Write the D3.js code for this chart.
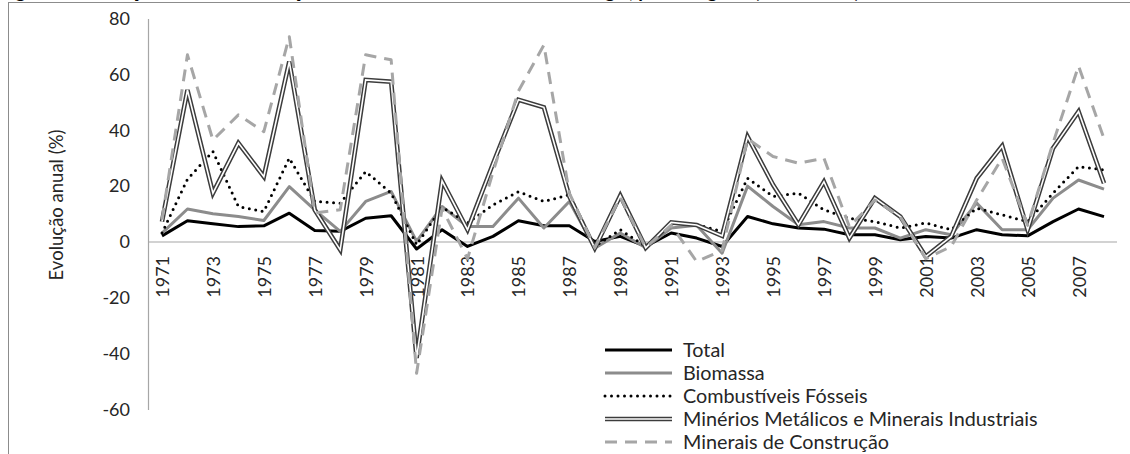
<!DOCTYPE html>
<html>
<head>
<meta charset="utf-8">
<script src="https://cdn.jsdelivr.net/npm/d3@7"></script>
<style>
  html, body { margin: 0; padding: 0; background: #fff; }
  svg { display: block; }
  text { font-family: Lato, "Open Sans", sans-serif; fill: #262626; }
</style>
</head>
<body>
<svg id="chart" width="1130" height="454"></svg>
<script>
const years = [1971,1972,1973,1974,1975,1976,1977,1978,1979,1980,1981,1982,1983,1984,1985,1986,1987,1988,1989,1990,
               1991,1992,1993,1994,1995,1996,1997,1998,1999,2000,2001,2002,2003,2004,2005,2006,2007,2008];
const yearLabels = [1971,1973,1975,1977,1979,1981,1983,1985,1987,1989,1991,1993,1995,1997,1999,2001,2003,2005,2007];
const yTicks = [-60,-40,-20,0,20,40,60,80];

const total = [2.2,7.6,6.5,5.5,5.8,10.3,4.1,3.8,8.5,9.4,-2.5,4.4,-1.6,2.0,7.6,5.8,5.8,0.2,2.0,-1.6,
               3.2,1.4,-1.6,9.1,6.5,5.0,4.6,2.6,2.6,0.8,2.0,1.4,4.4,2.6,2.2,7.3,11.8,9.1];
const biomassa = [3.2,11.8,10.1,9.1,7.7,19.8,11.5,3.8,14.5,18.1,0.2,12.7,5.5,5.5,15.7,5.0,14.5,-2.2,3.2,-2.0,
                  5.0,6.0,-4.0,20.0,12.7,6.2,7.3,5.0,5.0,1.4,4.4,2.6,13.9,4.4,4.4,15.7,22.2,18.9];
const fosseis = [3.2,22.5,32.4,12.7,10.9,30.0,14.5,13.9,25.2,17.5,-1.0,12.5,6.8,13.3,18.0,14.5,16.9,-1.6,4.4,-1.6,
                 6.8,6.2,3.8,22.8,16.3,17.5,11.5,8.5,7.3,5.0,6.8,4.4,12.1,9.7,7.3,17.5,27.0,25.8];
const minerios = [7.3,54.4,17.5,35.4,23.4,64.6,11.5,-2.8,58.0,57.4,-41.5,21.9,4.4,28.0,50.9,48.2,16.3,-2.2,16.6,-2.1,
                  7.0,6.1,2.2,37.7,20.5,6.2,21.6,1.4,15.7,9.1,-5.2,2.0,22.8,34.4,4.4,33.6,46.7,21.0];
const construcao = [8.0,67.0,36.5,45.5,39.5,73.5,10.4,11.5,67.0,65.2,-47.0,12.0,-6.0,25.0,54.0,70.5,17.5,-2.0,16.0,-2.0,
                    6.0,-7.0,-3.0,37.0,30.6,28.2,30.0,5.5,15.0,9.0,-6.0,-1.6,15.0,30.0,6.0,35.5,63.0,37.0];
const seriesNames = ["Total","Biomassa","Combustíveis Fósseis","Minérios Metálicos e Minerais Industriais","Minerais de Construção"];
const yTitle = "Evolução anual (%)";
const chartTitle = "Figura 2 - Evolução anual da extracção doméstica de materiais em Portugal, por categoria (1971-2008)";

const svg = d3.select("#chart");
svg.append("rect").attr("width",1130).attr("height",454).attr("fill","#fff");

// outer chart frame
svg.append("rect").attr("x",8.5).attr("y",2.5).attr("width",1140).attr("height",470)
  .attr("fill","none").attr("stroke","#8c8c8c").attr("stroke-width",1);
// title, cropped at the top edge as in the reference (only descenders visible)
svg.append("text").attr("x",0).attr("y",-2).attr("font-weight","bold").attr("font-size",19)
  .style("fill","#000").text(chartTitle);

const x = d3.scalePoint().domain(years).range([162,1104]);
const y = d3.scaleLinear().domain([-60,80]).range([409.6,18.5]);

// zero line
svg.append("line").attr("x1",148).attr("x2",1117).attr("y1",y(0)).attr("y2",y(0))
  .attr("stroke","#a6a6a6").attr("stroke-width",1.2);

// y axis
const yAxis = svg.append("g").attr("transform","translate(148,0)")
  .call(d3.axisLeft(y).tickValues(yTicks).tickSize(0).tickPadding(18).tickFormat(d => String(d)));
yAxis.select(".domain").attr("stroke","#a6a6a6").attr("stroke-width",1.2);
yAxis.selectAll("text").attr("font-size",18).attr("font-family","Lato, sans-serif").style("fill","#262626");

// x axis labels
const xAxis = svg.append("g").attr("transform",`translate(0,${y(0)})`)
  .call(d3.axisBottom(x).tickValues(yearLabels).tickSize(0));
xAxis.select(".domain").remove();
xAxis.selectAll("text")
  .attr("transform","rotate(-90)")
  .attr("x",-14).attr("y",0).attr("dy","0.36em")
  .attr("text-anchor","end")
  .attr("font-size",18).attr("font-family","Lato, sans-serif").style("fill","#262626");

// y title
svg.append("text").attr("transform",`translate(63,205) rotate(-90)`)
  .attr("text-anchor","middle").attr("font-size",18.5).text(yTitle);

const line = d3.line().x((d,i)=>x(years[i])).y(d=>y(d));

const styles = [
  {data: total, stroke:"#000", width:3},
  {data: biomassa, stroke:"#8c8c8c", width:3},
  {data: fosseis, stroke:"#000", width:3, dash:"0,6.5", cap:"round"},
  {data: minerios, double:true},
  {data: construcao, stroke:"#a6a6a6", width:3, dash:"12,8"}
];

function drawPath(g, d, s) {
  if (s.double) {
    g.append("path").attr("d",d).attr("fill","none").attr("stroke","#3c3c3c").attr("stroke-width",4.6)
      .attr("stroke-linejoin","miter");
    g.append("path").attr("d",d).attr("fill","none").attr("stroke","#fff").attr("stroke-width",1.6)
      .attr("stroke-linejoin","miter");
  } else {
    const p = g.append("path").attr("d",d).attr("fill","none").attr("stroke",s.stroke)
      .attr("stroke-width",s.width).attr("stroke-linejoin","round");
    if (s.dash) p.attr("stroke-dasharray",s.dash);
    if (s.cap) p.attr("stroke-linecap",s.cap);
  }
}

const plot = svg.append("g");
styles.forEach(s => drawPath(plot, line(s.data), s));

// legend
const lg = svg.append("g");
const rowY = [350,373,396,419,442];
styles.forEach((s,i)=>{
  drawPath(lg, `M605,${rowY[i]}L672,${rowY[i]}`, s);
  lg.append("text").attr("x",683).attr("y",rowY[i]).attr("dy","0.35em")
    .attr("font-size",19.8).text(seriesNames[i]);
});
</script>
</body>
</html>
